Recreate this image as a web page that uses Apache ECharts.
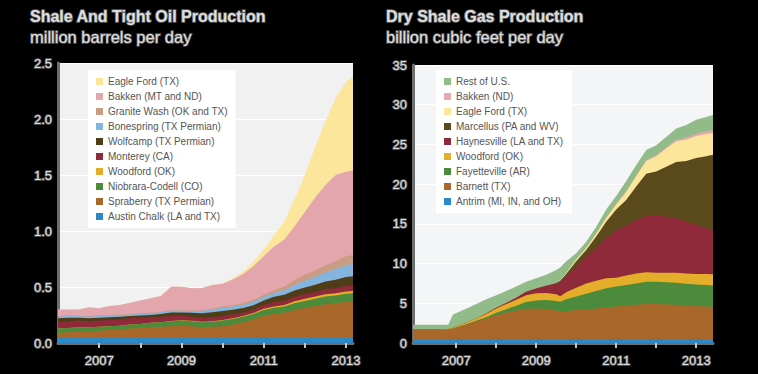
<!DOCTYPE html>
<html>
<head>
<meta charset="utf-8">
<script src="https://cdn.jsdelivr.net/npm/echarts@6/dist/echarts.min.js"></script>
<style>
  html, body { margin: 0; padding: 0; background: #000; }
  #chart { width: 758px; height: 374px; }
</style>
</head>
<body>
<div id="chart"></div>
<script>
// ---------- Shale and tight oil (million barrels per day) ----------
const oilYears = [2006.00,2006.25,2006.50,2006.75,2007.00,2007.25,2007.50,2007.75,2008.00,2008.25,2008.50,2008.75,2009.00,2009.25,2009.50,2009.75,2010.00,2010.25,2010.50,2010.75,2011.00,2011.25,2011.50,2011.75,2012.00,2012.25,2012.50,2012.75,2013.00,2013.17];
const oilAustinChalk = [0.05,0.05,0.05,0.05,0.05,0.05,0.05,0.05,0.05,0.05,0.05,0.05,0.05,0.05,0.045,0.045,0.045,0.045,0.045,0.045,0.045,0.045,0.045,0.045,0.045,0.045,0.045,0.045,0.045,0.045];
const oilSpraberry   = [0.04,0.045,0.05,0.055,0.06,0.065,0.07,0.08,0.085,0.09,0.095,0.10,0.105,0.10,0.095,0.10,0.105,0.12,0.14,0.165,0.20,0.215,0.225,0.25,0.27,0.285,0.30,0.31,0.32,0.325];
const oilNiobrara    = [0.04,0.04,0.04,0.035,0.035,0.035,0.035,0.035,0.035,0.04,0.04,0.045,0.045,0.045,0.045,0.045,0.05,0.05,0.05,0.05,0.05,0.055,0.055,0.06,0.06,0.065,0.07,0.07,0.075,0.075];
const oilWoodford    = [0,0,0,0,0,0,0,0,0,0,0,0.002,0.003,0.004,0.005,0.005,0.005,0.006,0.007,0.008,0.01,0.012,0.015,0.018,0.02,0.02,0.02,0.02,0.02,0.02];
const oilMonterey    = [0.06,0.06,0.06,0.055,0.055,0.055,0.055,0.055,0.055,0.05,0.05,0.045,0.04,0.035,0.035,0.035,0.035,0.035,0.03,0.03,0.035,0.04,0.04,0.04,0.04,0.04,0.045,0.045,0.05,0.05];
const oilWolfcamp    = [0.03,0.03,0.025,0.025,0.025,0.025,0.025,0.02,0.02,0.02,0.025,0.03,0.03,0.035,0.04,0.045,0.045,0.04,0.04,0.04,0.04,0.045,0.05,0.055,0.06,0.065,0.07,0.075,0.08,0.08];
const oilBonespring  = [0.015,0.015,0.015,0.015,0.015,0.015,0.015,0.015,0.015,0.015,0.015,0.015,0.015,0.015,0.02,0.025,0.03,0.03,0.03,0.03,0.03,0.035,0.04,0.05,0.06,0.07,0.08,0.095,0.105,0.11];
const oilGraniteWash = [0.005,0.005,0.005,0.005,0.005,0.005,0.005,0.005,0.005,0.005,0.005,0.005,0.005,0.005,0.007,0.008,0.01,0.012,0.015,0.018,0.02,0.025,0.035,0.045,0.055,0.06,0.065,0.07,0.08,0.08];
const oilBakken      = [0.06,0.055,0.055,0.08,0.065,0.08,0.085,0.10,0.115,0.13,0.14,0.21,0.21,0.20,0.20,0.21,0.205,0.23,0.26,0.30,0.345,0.39,0.42,0.48,0.56,0.65,0.715,0.77,0.755,0.755];
const oilEagleFord   = [0,0,0,0,0,0,0,0,0,0,0,0,0,0,0,0,0.003,0.01,0.02,0.04,0.06,0.10,0.16,0.24,0.33,0.45,0.57,0.69,0.80,0.84];

// ---------- Dry shale gas (billion cubic feet per day) ----------
const gasYears = [2005.92,2006.25,2006.50,2006.80,2006.92,2007.25,2007.50,2007.75,2008.00,2008.25,2008.50,2008.75,2009.00,2009.25,2009.50,2009.60,2009.75,2010.00,2010.25,2010.50,2010.75,2011.00,2011.25,2011.50,2011.75,2012.00,2012.25,2012.50,2012.75,2013.00,2013.25,2013.42];
const gasAntrim       = [0.5,0.5,0.5,0.5,0.5,0.5,0.5,0.5,0.5,0.5,0.5,0.5,0.5,0.5,0.5,0.5,0.5,0.45,0.45,0.45,0.45,0.45,0.45,0.45,0.45,0.45,0.45,0.45,0.45,0.45,0.45,0.45];
const gasBarnett      = [1.2,1.2,1.2,1.2,1.3,1.8,2.2,2.6,3.0,3.3,3.6,3.8,3.85,3.8,3.6,3.4,3.5,3.7,3.75,3.9,4.05,4.15,4.25,4.35,4.45,4.45,4.4,4.35,4.25,4.2,4.15,4.1];
const gasFayetteville = [0,0,0,0,0.02,0.05,0.1,0.15,0.3,0.45,0.6,0.85,1.0,1.1,1.2,1.3,1.5,1.7,2.0,2.2,2.4,2.5,2.6,2.7,2.8,2.8,2.8,2.8,2.75,2.7,2.7,2.7];
const gasWoodford     = [0,0,0,0.05,0.1,0.2,0.3,0.4,0.55,0.65,0.75,0.85,0.9,0.9,0.85,0.7,0.9,1.1,1.3,1.3,1.25,1.1,1.2,1.25,1.2,1.15,1.2,1.25,1.3,1.35,1.4,1.4];
const gasHaynesville  = [0,0,0,0,0,0,0,0.05,0.1,0.15,0.25,0.45,0.6,0.9,1.3,1.8,2.0,2.65,3.4,4.15,5.0,6.0,6.3,6.75,7.1,7.25,7.05,6.85,6.55,6.2,5.7,5.55];
const gasMarcellus    = [0,0,0,0,0,0,0,0,0,0,0,0,0,0,0.1,0.15,0.3,0.7,0.8,1.4,2.1,2.6,3.2,4.2,5.3,5.5,6.3,7.1,7.6,8.4,9.1,9.5];
const gasEagleFord    = [0,0,0,0,0,0,0,0,0,0,0,0,0,0,0,0.05,0.1,0.2,0.25,0.35,0.5,0.65,1.0,1.3,1.6,1.9,2.3,2.6,2.7,2.75,2.8,2.7];
const gasBakken       = [0,0,0,0,0,0,0,0,0,0,0.0,0,0,0,0,0,0,0,0,0,0.05,0.05,0.1,0.1,0.1,0.15,0.15,0.2,0.25,0.3,0.35,0.4];
const gasRestUS       = [0.6,0.6,0.6,0.55,1.68,1.75,1.8,1.8,1.55,1.5,1.4,1.25,1.3,1.4,1.65,1.6,1.5,0.8,0.8,0.9,1.0,1.0,1.3,1.3,1.3,1.25,1.3,1.4,1.6,1.75,1.8,1.9];

const yearTicks = [2007, 2008, 2009, 2010, 2011, 2012, 2013];
const yearLabels = [2007, 2009, 2011, 2013];

// series, bottom of stack first
const oilSeries = [
  ['Austin Chalk (LA and TX)', oilAustinChalk, '#2d88c8'],
  ['Spraberry (TX Permian)', oilSpraberry, '#a9672a'],
  ['Niobrara-Codell (CO)', oilNiobrara, '#4b8b3b'],
  ['Woodford (OK)', oilWoodford, '#e4ad2a'],
  ['Monterey (CA)', oilMonterey, '#8e2a39'],
  ['Wolfcamp (TX Permian)', oilWolfcamp, '#4f3d17'],
  ['Bonespring (TX Permian)', oilBonespring, '#84b5e0'],
  ['Granite Wash (OK and TX)', oilGraniteWash, '#c99d84'],
  ['Bakken (MT and ND)', oilBakken, '#e4a6ad'],
  ['Eagle Ford (TX)', oilEagleFord, '#fbe69b']
];
const gasSeries = [
  ['Antrim (MI, IN, and OH)', gasAntrim, '#2d88c8'],
  ['Barnett (TX)', gasBarnett, '#a9672a'],
  ['Fayetteville (AR)', gasFayetteville, '#4b8b3b'],
  ['Woodford (OK)', gasWoodford, '#e4ad2a'],
  ['Haynesville (LA and TX)', gasHaynesville, '#8e2a39'],
  ['Marcellus (PA and WV)', gasMarcellus, '#5a4a1b'],
  ['Eagle Ford (TX)', gasEagleFord, '#fbe69b'],
  ['Bakken (ND)', gasBakken, '#e5a8ae'],
  ['Rest of U.S.', gasRestUS, '#92bb8a']
];

const outlined = {
  color: '#dedede',
  textBorderColor: '#5e5e5e',
  textBorderWidth: 1.6,
  fontFamily: "'Liberation Sans', Arial, sans-serif"
};
const legendFont = "'Liberation Sans Narrow', 'Arial Narrow', 'Liberation Sans', Arial, sans-serif";

// Stacked areas: each layer is drawn from zero up to the running total of its
// own value plus all layers beneath it; upper layers are drawn first so the
// lower ones sit on top of them.
function buildSeries(list, years, axisIdx) {
  const running = years.map(() => 0);
  const built = list.map(([name, vals, color]) => {
    const tops = years.map((y, i) => { running[i] += vals[i]; return running[i]; });
    return {
      name: name,
      type: 'line',
      xAxisIndex: axisIdx,
      yAxisIndex: axisIdx,
      symbol: 'none',
      showSymbol: false,
      smooth: false,
      color: color,
      lineStyle: { width: 0, color: color },
      areaStyle: { color: color, opacity: 1, origin: 'start' },
      silent: true,
      data: years.map((y, i) => [y, +tops[i].toFixed(4)])
    };
  });
  return built.reverse();
}

function xAxisDef(idx, min, max) {
  return {
    type: 'value', gridIndex: idx, min: min, max: max,
    axisLine: { show: true, lineStyle: { color: '#6e6e6e', width: 3 } },
    axisTick: { show: true, customValues: yearTicks, length: 5, lineStyle: { color: '#c4c4c4', width: 2 } },
    axisLabel: Object.assign({ customValues: yearLabels, fontSize: 13, margin: 11,
      formatter: v => String(Math.round(v)) }, outlined),
    splitLine: { show: false }
  };
}
function yAxisDef(idx, max, interval, fmt) {
  return {
    type: 'value', gridIndex: idx, min: 0, max: max, interval: interval,
    axisLine: { show: true, lineStyle: { color: '#6e6e6e', width: 3 } },
    axisTick: { show: false },
    axisLabel: Object.assign({ fontSize: 13, margin: 6, formatter: fmt }, outlined),
    splitLine: { show: true, lineStyle: { color: '#ffffff', width: 1 } }
  };
}

function legendDef(left, list) {
  return {
    left: left, top: 70, orient: 'vertical',
    backgroundColor: '#ffffff',
    padding: [5, 8, 5, 8],
    itemWidth: 7, itemHeight: 7, itemGap: 2,
    icon: 'rect',
    selectedMode: false,
    textStyle: { color: '#555555', fontSize: 10, lineHeight: 13, fontFamily: legendFont },
    data: list.slice().reverse().map(s => ({ name: s[0], itemStyle: { color: s[2] } }))
  };
}

const chart = echarts.init(document.getElementById('chart'), null, { renderer: 'svg' });
chart.setOption({
  backgroundColor: '#000000',
  animation: false,
  title: [
    { text: 'Shale And Tight Oil Production', subtext: 'million barrels per day', left: 30, top: 6, itemGap: 1,
      padding: 0,
      textStyle: Object.assign({}, outlined, { fontSize: 16, fontWeight: 'bold', lineHeight: 20 }),
      subtextStyle: Object.assign({}, outlined, { fontSize: 16.5, lineHeight: 20 }) },
    { text: 'Dry Shale Gas Production', subtext: 'billion cubic feet per day', left: 386, top: 6, itemGap: 1,
      padding: 0,
      textStyle: Object.assign({}, outlined, { fontSize: 16, fontWeight: 'bold', lineHeight: 20 }),
      subtextStyle: Object.assign({}, outlined, { fontSize: 16.5, lineHeight: 20 }) }
  ],
  legend: [legendDef(88, oilSeries), legendDef(436, gasSeries)],
  grid: [
    { left: 58, right: 405, top: 63, bottom: 31, show: true, backgroundColor: '#f1f1f1', borderWidth: 0 },
    { left: 413, right: 45, top: 65, bottom: 31, show: true, backgroundColor: '#f4f5f7', borderWidth: 0 }
  ],
  xAxis: [xAxisDef(0, 2006, 2013.17), xAxisDef(1, 2005.92, 2013.42)],
  yAxis: [
    yAxisDef(0, 2.5, 0.5, v => v.toFixed(1)),
    yAxisDef(1, 35, 5, v => String(v))
  ],
  series: buildSeries(oilSeries, oilYears, 0).concat(buildSeries(gasSeries, gasYears, 1))
});
</script>
</body>
</html>
